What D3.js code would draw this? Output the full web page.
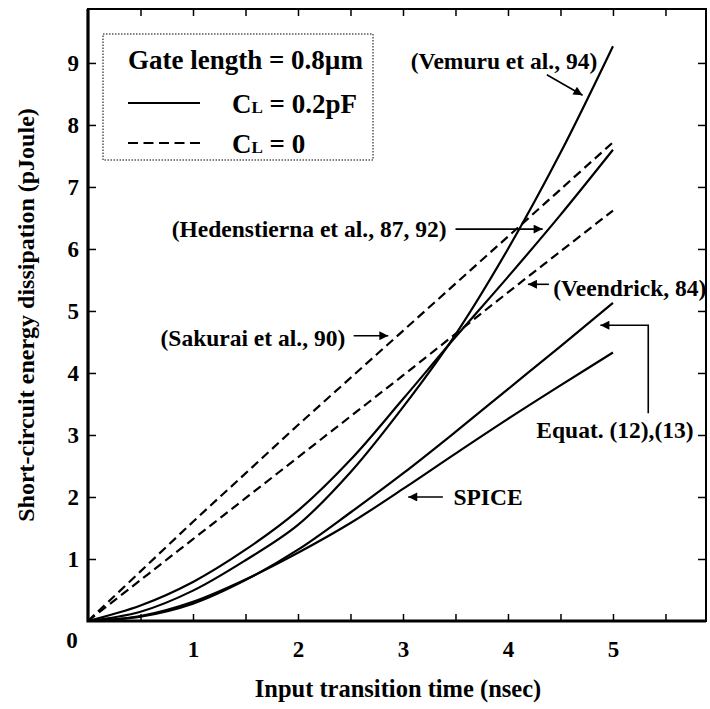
<!DOCTYPE html>
<html>
<head>
<meta charset="utf-8">
<script src="https://cdn.jsdelivr.net/npm/d3@7"></script>
<style>
  body { margin: 0; background: #fff; }
</style>
</head>
<body>
<div class="canvas"></div>
<script>
// data (x in nsec, y in pJoule)
const xValues = [0, 0.5, 1, 1.5, 2, 2.5, 3, 3.5, 4, 4.5, 5];
const vemuru = [0, 0.15, 0.49, 0.98, 1.55, 2.4, 3.45, 4.62, 6.0, 7.55, 9.27];
const hedenstierna = [0, 0.25, 0.63, 1.15, 1.78, 2.6, 3.58, 4.58, 5.55, 6.55, 7.6];
const equat = [0, 0.07, 0.28, 0.66, 1.15, 1.75, 2.38, 3.05, 3.74, 4.43, 5.13];
const spice = [0, 0.08, 0.31, 0.67, 1.1, 1.58, 2.13, 2.7, 3.26, 3.8, 4.33];
const sakurai = [0, 0.8, 1.6, 2.38, 3.16, 3.92, 4.68, 5.44, 6.2, 6.96, 7.72];
const veendrick = [0, 0.66, 1.32, 1.98, 2.64, 3.3, 3.96, 4.63, 5.3, 5.96, 6.62];

const xTicks = [0.5, 1, 1.5, 2, 2.5, 3, 3.5, 4, 4.5, 5, 5.5];
const yTicks = [1, 2, 3, 4, 5, 6, 7, 8, 9];

// series: solid = CL 0.2pF, dashed = CL 0
const series = [
  { name: 'vemuru', values: vemuru, dashed: false },
  { name: 'hedenstierna', values: hedenstierna, dashed: false },
  { name: 'equat', values: equat, dashed: false },
  { name: 'spice', values: spice, dashed: false },
  { name: 'sakurai', values: sakurai, dashed: true },
  { name: 'veendrick', values: veendrick, dashed: true }
];

// annotations in data units
const notes = [
  { text: '(Vemuru et al., 94)', x: 4.85, y: 8.9, anchor: 'end', arrow: [[4.37, 8.81], [4.71, 8.48]] },
  { text: '(Hedenstierna et al., 87, 92)', x: 3.415, y: 6.2, anchor: 'end', arrow: [[3.5, 6.32], [4.33, 6.32]] },
  { text: '(Sakurai et al., 90)', x: 2.45, y: 4.43, anchor: 'end', arrow: [[2.53, 4.6], [2.86, 4.6]] },
  { text: '(Veendrick, 84)', x: 4.43, y: 5.24, anchor: 'start', arrow: [[4.39, 5.43], [4.19, 5.43]] },
  { text: 'Equat. (12),(13)', x: 4.27, y: 2.95, anchor: 'start', arrow: [[5.336, 3.35], [5.336, 4.77], [4.88, 4.77]] },
  { text: 'SPICE', x: 3.48, y: 1.87, anchor: 'start', arrow: [[3.38, 2.0], [3.05, 2.0]] }
];

const width = 710, height = 709;
const plotLeft = 88, plotRight = 706, plotTop = 9, plotBottom = 621;
const serif = "'Liberation Serif', 'DejaVu Serif', 'Times New Roman', serif";

const svg = d3.select('.canvas')
  .append('svg')
    .attr('width', width)
    .attr('height', height)
    .attr('font-family', serif)
    .attr('font-weight', 'bold');

const x = d3.scaleLinear().domain([0, 5.886]).range([plotLeft, plotRight]);
const y = d3.scaleLinear().domain([0, 9.87]).range([plotBottom, plotTop]);

// arrow marker
svg.append('defs').append('marker')
    .attr('id', 'arrow')
    .attr('viewBox', '0 0 10 10')
    .attr('refX', 10)
    .attr('refY', 5)
    .attr('markerUnits', 'userSpaceOnUse')
    .attr('markerWidth', 13)
    .attr('markerHeight', 9)
    .attr('orient', 'auto')
  .append('path')
    .attr('d', 'M0,0 L10,5 L0,10 z')
    .attr('fill', '#000');

// axes with inward ticks
const fmt = d => (Number.isInteger(d) && d > 0) ? d : '';

const axes = [
  svg.append('g')
    .attr('transform', `translate(0,${plotBottom})`)
    .call(d3.axisBottom(x).tickValues(xTicks).tickSize(-7).tickPadding(20).tickFormat(fmt)),
  svg.append('g')
    .attr('transform', `translate(0,${plotTop})`)
    .call(d3.axisTop(x).tickValues(xTicks).tickSize(-7).tickFormat('')),
  svg.append('g')
    .attr('transform', `translate(${plotLeft},0)`)
    .call(d3.axisLeft(y).tickValues(yTicks).tickSize(-8).tickPadding(9).tickFormat(d => d)),
  svg.append('g')
    .attr('transform', `translate(${plotRight},0)`)
    .call(d3.axisRight(y).tickValues(yTicks).tickSize(-8).tickFormat(''))
];
axes.forEach(a => a.attr('font-family', serif).attr('font-size', 23));

svg.selectAll('.domain').remove();
svg.selectAll('.tick line').attr('stroke', '#000').attr('stroke-width', 1.5);
svg.selectAll('.tick text').attr('fill', '#000');

// origin label
svg.append('text')
  .attr('x', x(0) - 16)
  .attr('y', y(0) + 27)
  .attr('text-anchor', 'middle')
  .attr('font-size', 23)
  .text('0');

// frame
svg.append('rect')
  .attr('x', plotLeft).attr('y', plotTop)
  .attr('width', plotRight - plotLeft).attr('height', plotBottom - plotTop)
  .attr('fill', 'none').attr('stroke', '#000').attr('stroke-width', 2);
svg.append('path')
  .attr('d', `M${plotLeft},${plotTop} V${plotBottom} H${plotRight}`)
  .attr('fill', 'none').attr('stroke', '#000').attr('stroke-width', 3.2);

// curves
const line = d3.line()
  .x((d, i) => x(xValues[i]))
  .y(d => y(d))
  .curve(d3.curveCatmullRom.alpha(0.5));

svg.selectAll('.curve')
  .data(series)
  .enter()
  .append('path')
    .attr('class', 'curve')
    .attr('d', d => line(d.values))
    .attr('fill', 'none')
    .attr('stroke', '#000')
    .attr('stroke-width', 2.2)
    .attr('stroke-dasharray', d => d.dashed ? '9,5' : null);

// annotations
const arrowLine = d3.line().x(d => x(d[0])).y(d => y(d[1]));

svg.selectAll('.note')
  .data(notes)
  .enter()
  .append('text')
    .attr('class', 'note')
    .attr('x', d => x(d.x))
    .attr('y', d => y(d.y))
    .attr('text-anchor', d => d.anchor)
    .attr('font-size', 23.5)
    .text(d => d.text);

svg.selectAll('.arrow')
  .data(notes)
  .enter()
  .append('path')
    .attr('class', 'arrow')
    .attr('d', d => arrowLine(d.arrow))
    .attr('fill', 'none')
    .attr('stroke', '#000')
    .attr('stroke-width', 1.6)
    .attr('marker-end', 'url(#arrow)');

// legend
const legend = svg.append('g');
legend.append('rect')
  .attr('x', 103).attr('y', 34)
  .attr('width', 270).attr('height', 126)
  .attr('fill', 'none')
  .attr('stroke', '#000')
  .attr('stroke-width', 1)
  .attr('stroke-dasharray', '1.5,1.5');

legend.append('text')
  .attr('x', 128).attr('y', 69)
  .attr('font-size', 27)
  .text('Gate length = 0.8\u00b5m');

const legendRows = [
  { label: '0.2pF', dashed: false, y: 103 },
  { label: '0', dashed: true, y: 143 }
];

legendRows.forEach(r => {
  legend.append('line')
    .attr('x1', 128).attr('x2', 200)
    .attr('y1', r.y).attr('y2', r.y)
    .attr('stroke', '#000')
    .attr('stroke-width', 2)
    .attr('stroke-dasharray', r.dashed ? '10,5.5' : null);
  const t = legend.append('text')
    .attr('x', 232).attr('y', r.y + 10)
    .attr('font-size', 27);
  t.append('tspan').text('C');
  t.append('tspan').attr('font-size', 17).text('L');
  t.append('tspan').text(' = ' + r.label);
});

// axis titles
svg.append('text')
  .attr('x', (plotLeft + plotRight) / 2 + 1)
  .attr('y', 697)
  .attr('text-anchor', 'middle')
  .attr('font-size', 24.5)
  .text('Input transition time (nsec)');

svg.append('text')
  .attr('transform', `translate(34,${(plotTop + plotBottom) / 2}) rotate(-90)`)
  .attr('text-anchor', 'middle')
  .attr('font-size', 24)
  .text('Short-circuit energy dissipation (pJoule)');
</script>
</body>
</html>
